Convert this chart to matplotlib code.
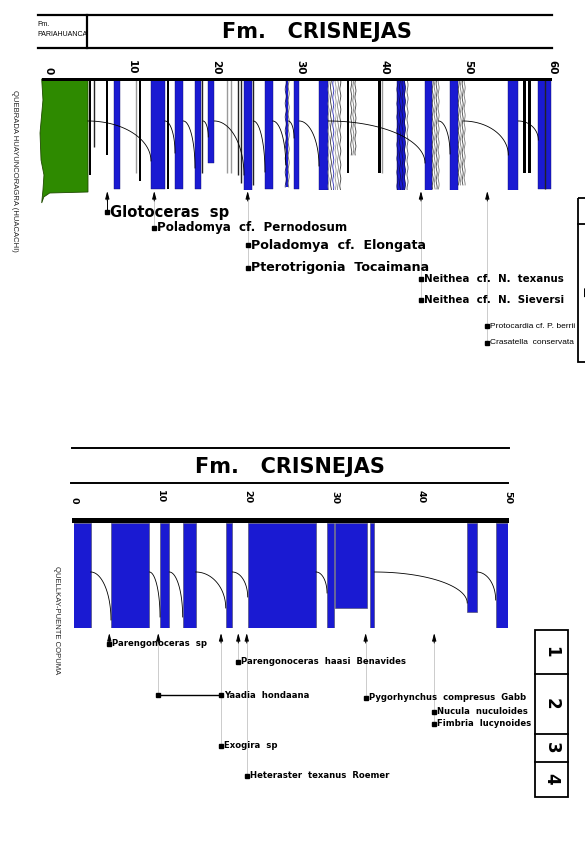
import numpy as np
import matplotlib
matplotlib.use("Agg")
import matplotlib.pyplot as plt
from matplotlib import font_manager
from matplotlib.patches import Polygon, Rectangle

W, H = 585, 868
BLUE = "#1a1ad2"
GREEN = "#2e8a00"

# condensed face if we have one, otherwise plain Arial-metric face set smaller
_names = {f.name for f in font_manager.fontManager.ttflist}
if "Liberation Sans Narrow" in _names:
    NARROW, NSCALE = ["Liberation Sans Narrow", "DejaVu Sans"], 1.0
else:
    NARROW, NSCALE = ["Liberation Sans", "DejaVu Sans"], 0.82

# ---------------------------------------------------------------
# Upper section: Quebrada Huayuncoragra (Huacachi)
# x = thickness in metres, depth = length of the bed symbol
# ---------------------------------------------------------------
top_ticks = [0, 10, 20, 30, 40, 50, 60]

top_blue_left = [7.8, 12.26, 15.12, 17.5, 19.08, 23.33, 25.83, 29.29, 32.26, 41.5, 44.88, 47.86, 54.8, 58.37]
top_blue_right = [8.6, 13.93, 16.11, 18.2, 19.8, 24.25, 26.75, 29.9, 33.37, 42.4, 45.7, 48.77, 56.0, 59.85]
top_blue_depth = [110, 110, 110, 110, 84, 112, 110, 110, 111, 111, 112, 112, 112, 110]

top_black_left = [4.92, 6.87, 10.8, 14.2, 35.56, 39.32, 56.5, 57.18]
top_black_right = [5.12, 7.14, 11.07, 14.4, 35.83, 39.6, 56.87, 57.46]
top_black_depth = [96, 76, 102, 110, 94, 94, 94, 94]

top_line_x = [5.48, 10.44, 18.3, 21.27, 21.79, 22.65, 22.94, 24.44, 39.72, 59.17]
top_line_depth = [68, 94, 94, 94, 94, 96, 104, 106, 94, 110]
top_line_kind = ["dark", "light", "dark", "light", "light", "dark", "dark", "dark", "light", "dark"]

top_wavy_left = [28.3, 33.4, 36.1, 41.6, 45.8, 48.9]
top_wavy_right = [28.65, 34.8, 36.6, 42.8, 46.5, 49.6]
top_wavy_depth = [108, 111, 76, 111, 110, 106]
top_wavy_kind = ["blue", "mixed", "grey", "blue", "grey", "grey"]

# Pariahuanca limestone outline
green_x = [-0.75, -0.6, -0.95, -0.83, -0.48, -0.6, -0.75, -0.5, 0.2, 4.76, 4.76]
green_depth = [0, 21, 54, 81, 96, 111, 124, 118, 114, 113, 0]

# thinning-upward curves: start x, end x, end depth
top_arc_from = [4.76, 13.93, 16.11, 18.45, 19.8, 24.44, 26.75, 28.6, 29.9, 33.37, 46.5, 49.4, 56.0]
top_arc_to = [12.26, 15.12, 17.5, 19.08, 23.33, 25.83, 28.3, 29.29, 32.26, 44.88, 47.86, 54.8, 58.37]
top_arc_end = [82, 74, 89, 58, 96, 93, 86, 59, 87, 84, 75, 76, 61]

top_fossil_x = [7.06, 12.65, 23.77, 44.4, 52.3]
top_fossil_depth = [[133], [149], [166, 189], [200, 221], [247, 264]]
top_fossil_name = [
    ["Glotoceras  sp"],
    ["Poladomya  cf.  Pernodosum"],
    ["Poladomya  cf.  Elongata", "Pterotrigonia  Tocaimana"],
    ["Neithea  cf.  N.  texanus", "Neithea  cf.  N.  Sieversi"],
    ["Protocardia cf. P. berrii", "Crasatella  conservata"],
]
top_zone_edges = [119, 145, 283]
top_zone_names = ["1", "2"]

# ---------------------------------------------------------------
# Lower section: Quellkay-Puente Copuma
# ---------------------------------------------------------------
bot_ticks = [0, 10, 20, 30, 40, 50]

bot_blue_left = [-0.23, 4.26, 9.91, 12.52, 17.48, 20.01, 29.15, 30.1, 34.1, 45.3, 48.58]
bot_blue_right = [1.92, 8.68, 10.98, 14.02, 18.24, 27.88, 30.0, 33.8, 34.6, 46.4, 50.1]
bot_blue_depth = [105, 105, 105, 105, 105, 105, 105, 85, 105, 89, 105]

bot_arc_from = [1.92, 8.68, 10.98, 14.02, 18.24, 27.88, 34.6, 46.4]
bot_arc_to = [4.26, 9.91, 12.52, 17.48, 20.01, 29.15, 45.3, 48.58]
bot_arc_end = [97, 94, 94, 85, 74, 70, 80, 77]

bot_fossil_x = [4.07, 9.71, 16.94, 18.93, 19.9, 33.6, 41.5]
bot_fossil_depth = [[121], [172], [172, 223], [139], [253], [175], [189, 201]]
bot_fossil_name = [
    ["Parengonoceras  sp"],
    [""],
    ["Yaadia  hondaana", "Exogira  sp"],
    ["Parengonoceras  haasi  Benavides"],
    ["Heteraster  texanus  Roemer"],
    ["Pygorhynchus  compresus  Gabb"],
    ["Nucula  nuculoides", "Fimbria  lucynoides"],
]
bot_link = (9.71, 16.94, 172)
bot_zone_edges = [107, 151, 211.3, 238.7, 273.7]
bot_zone_names = ["1", "2", "3", "4"]


def setup(ax, ticks, pad, size):
    ax.set_xticks(ticks)
    ax.set_xticklabels([str(t) for t in ticks], fontweight="bold", fontsize=size)
    ax.tick_params(axis="x", top=True, bottom=False, labeltop=True, labelbottom=False,
                   length=0, pad=pad, labelrotation=270)
    ax.set_yticks([])
    for s in ax.spines.values():
        s.set_visible(False)
    ax.patch.set_alpha(0)


def arcs(ax, x_from, x_to, d_end, d_start):
    t = np.linspace(0, np.pi / 2, 60)
    for a, b, e in zip(x_from, x_to, d_end):
        ax.plot(a + (b - a) * np.sin(t), d_start + (e - d_start) * (1 - np.cos(t)),
                color="black", lw=0.6, zorder=4)


def wavy(ax, x0, x1, depth, kind):
    d = np.linspace(0, depth, 160)
    n = max(2, int(round((x1 - x0) / 0.28)) + 1)
    if kind == "blue":
        ax.bar(x0, depth, width=(x1 - x0) * 0.75, align="edge", color=BLUE, zorder=2)
    for i, xc in enumerate(np.linspace(x0, x1, n)):
        if kind == "grey":
            col = "#7a7a7a" if i % 2 else "#444444"
        elif kind == "blue":
            col = "#10105a" if i < n - 1 else "#666666"
        else:
            col = ["#8a8a8a", "#3a3a3a", "#2b2bb8", "#9a9a9a"][i % 4]
        ax.plot(xc + 0.06 * np.sin(d / 2.2 + i * 1.3), d, color=col, lw=0.6, zorder=3)


def fossils(ax, xs, depths, names, head, fonts):
    for x, ds, ns, fp in zip(xs, depths, names, fonts):
        low = max(ds)
        solid = (low - head) < 25
        ax.plot([x, x], [head + 9, low], color="black" if solid else "#8a8a8a",
                lw=0.7 if solid else 0.6, ls="-" if solid else (0, (1.2, 1.2)), clip_on=False)
        ax.annotate("", xy=(x, head), xytext=(x, head + 10), annotation_clip=False,
                    arrowprops=dict(arrowstyle="-|>,head_length=0.45,head_width=0.12",
                                    color="black", lw=0.7, shrinkA=0, shrinkB=0))
        for d, n in zip(ds, ns):
            ax.plot(x, d, marker="s", ms=2.3, color="black", clip_on=False, zorder=5)
            if n:
                ax.annotate(n, xy=(x, d), xytext=(2.2, 0), textcoords="offset points",
                            va="center", ha="left", annotation_clip=False, **fp)


def zones(ax, x0, x1, edges, labels, tx, size):
    ax.add_patch(Rectangle((x0, edges[0]), x1 - x0, edges[-1] - edges[0], fill=False,
                           lw=1.3, ec="black", clip_on=False))
    for e in edges[1:-1]:
        ax.plot([x0, x1], [e, e], color="black", lw=1.3, clip_on=False)
    for a, b, lab in zip(edges[:-1], edges[1:], labels):
        ax.text(tx, (a + b) / 2, lab, rotation=270, ha="center", va="center",
                fontsize=size, fontweight="bold", clip_on=False)


fig = plt.figure(figsize=(W / 100, H / 100), dpi=100, facecolor="white")

# ------------------------- upper column -------------------------
ax = fig.add_axes([48 / W, 1 - 190 / H, 504 / W, 111 / H])
ax.set_xlim(0, 60)
ax.set_ylim(111, 0)
setup(ax, top_ticks, 3.5, 7.5)

ax.add_patch(Polygon(np.column_stack([green_x, green_depth]), closed=True, fc=GREEN,
                     ec="#1f4a00", lw=0.6, clip_on=False, zorder=2))
ax.bar(top_blue_left, top_blue_depth, width=np.subtract(top_blue_right, top_blue_left),
       align="edge", color=BLUE, ec="#101070", lw=0.3, zorder=2)
ax.bar(top_black_left, top_black_depth, width=np.subtract(top_black_right, top_black_left),
       align="edge", color="black", zorder=2)
tone = {"dark": "#222222", "light": "#9a9a9a"}
ax.vlines(top_line_x, 0, top_line_depth, colors=[tone[k] for k in top_line_kind], lw=1.0, zorder=2)
for a, b, d, k in zip(top_wavy_left, top_wavy_right, top_wavy_depth, top_wavy_kind):
    wavy(ax, a, b, d, k)
arcs(ax, top_arc_from, top_arc_to, top_arc_end, 42)
ax.barh(0, 60.75, left=-0.75, height=3, color="black", zorder=5, clip_on=False)

# header
for y in (-64, -31):
    ax.plot([-1.19, 60], [y, y], color="black", lw=1.6, clip_on=False)
ax.plot([4.64, 4.64], [-64, -31], color="black", lw=1.6, clip_on=False)
ax.text(-1.31, -55, "Fm.", fontsize=6.2 * NSCALE, family=NARROW, va="center", ha="left")
ax.text(-1.31, -44, "PARIAHUANCA", fontsize=6.2 * NSCALE, family=NARROW, va="center", ha="left")
ax.text(32.0, -47, "Fm.   CRISNEJAS", fontsize=15, fontweight="bold", ha="center", va="center")
ax.text(-3.93, 92, "QUEBRADA HUAYUNCORAGRA (HUACACHI)", rotation=270, fontsize=6.7 * NSCALE,
        family=NARROW, ha="center", va="center", color="#222222")

top_fonts = [dict(fontsize=10.6, fontweight="bold"), dict(fontsize=8.6, fontweight="bold"),
             dict(fontsize=9.1, fontweight="bold"), dict(fontsize=7.4, fontweight="bold"),
             dict(fontsize=7.3 * NSCALE, family=NARROW)]
fossils(ax, top_fossil_x, top_fossil_depth, top_fossil_name, 112, top_fonts)
zones(ax, 63.06, 66.5, top_zone_edges, top_zone_names, 64.15, 12)

# ------------------------- lower column -------------------------
ax2 = fig.add_axes([74 / W, 1 - 628 / H, 434 / W, 105 / H])
ax2.set_xlim(0, 50)
ax2.set_ylim(105, 0)
setup(ax2, bot_ticks, 14, 6.8)

ax2.bar(bot_blue_left, bot_blue_depth, width=np.subtract(bot_blue_right, bot_blue_left),
        align="edge", color=BLUE, ec="#55557a", lw=0.5, zorder=2)
arcs(ax2, bot_arc_from, bot_arc_to, bot_arc_end, 49)
ax2.barh(-2.5, 50.33, left=-0.23, height=5, color="black", zorder=5, clip_on=False)

ax2.plot([-0.27, 50.1], [-74.7, -74.7], color="black", lw=1.4, clip_on=False)
ax2.plot([-0.35, 50.0], [-39.7, -39.7], color="black", lw=1.4, clip_on=False)
ax2.text(24.9, -56, "Fm.   CRISNEJAS", fontsize=15, fontweight="bold", ha="center", va="center")
ax2.text(-2.07, 97, "QUELLKAY-PUENTE COPUMA", rotation=270, fontsize=6.7 * NSCALE,
         family=NARROW, ha="center", va="center", color="#222222")

ax2.plot(bot_link[:2], [bot_link[2]] * 2, color="black", lw=1.0, clip_on=False)
bot_fonts = [dict(fontsize=6.1, fontweight="bold")] * len(bot_fossil_x)
fossils(ax2, bot_fossil_x, bot_fossil_depth, bot_fossil_name, 110, bot_fonts)
zones(ax2, 53.1, 56.95, bot_zone_edges, bot_zone_names, 55.02, 12)

fig.savefig("out.png", dpi=100, facecolor="white")
